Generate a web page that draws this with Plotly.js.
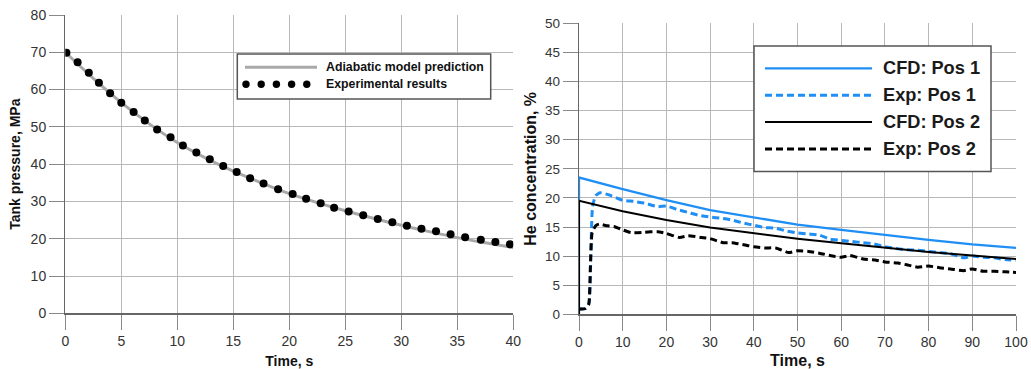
<!DOCTYPE html>
<html>
<head>
<meta charset="utf-8">
<script src="https://cdn.plot.ly/plotly-3.0.1.min.js"></script>
<style>
html,body{margin:0;padding:0;background:#fff;}
#chart{width:1031px;height:369px;}
</style>
</head>
<body>
<div id="chart"></div>
<script>
// ---------- Left chart data: tank pressure ----------
const modelTime = [0, 2.5, 5, 7.5, 10, 12.5, 15, 17.5, 20, 22.5, 25, 27.5, 30, 32.5, 35, 37.5, 40];
const modelPressure = [70, 63.0, 56.5, 50.8, 45.8, 41.7, 38.1, 35.0, 32.1, 29.7, 27.5, 25.5, 23.6, 21.9, 20.3, 18.9, 17.6];
const expTime = [0.1, 1.1, 2.1, 3.0, 4.0, 5.0, 6.1, 7.1, 8.2, 9.4, 10.5, 11.7, 12.9, 14.1, 15.3, 16.5, 17.7, 19.0, 20.3, 21.5, 22.8, 24.0, 25.3, 26.6, 27.9, 29.2, 30.5, 31.8, 33.1, 34.4, 35.7, 37.1, 38.4, 39.7];
const expPressure = [69.9, 67.3, 64.5, 61.8, 59.0, 56.5, 54.0, 51.7, 49.3, 47.2, 45.0, 43.1, 41.3, 39.5, 37.9, 36.2, 34.8, 33.3, 32.0, 30.7, 29.5, 28.3, 27.3, 26.3, 25.3, 24.4, 23.5, 22.7, 22.0, 21.2, 20.4, 19.7, 19.1, 18.5];
const leftNames = ['Adiabatic model prediction', 'Experimental results'];

// ---------- Right chart data: He concentration ----------
const cfd1Time = [0, 0, 10, 20, 30, 40, 50, 60, 70, 80, 90, 100];
const cfd1Conc = [0, 23.5, 21.5, 19.6, 17.9, 16.6, 15.4, 14.5, 13.6, 12.8, 12.0, 11.4];
const cfd2Time = [0, 0, 10, 20, 30, 40, 50, 60, 70, 80, 90, 100];
const cfd2Conc = [0, 19.5, 17.7, 16.2, 14.9, 13.9, 13.0, 12.2, 11.4, 10.7, 10.1, 9.5];
const exp1Time = [0, 1.5, 2.3, 2.7, 3.1, 3.8, 4.8, 6.5, 8, 10, 12.5, 15, 18, 20, 22.5, 25, 27.5, 30, 32.5, 35, 37.5, 40, 42.5, 45, 47.5, 50, 52.5, 55, 57.5, 60, 62.5, 65, 67.5, 70, 72.5, 75, 77.5, 80, 82.5, 85, 88, 90, 92.5, 95, 97.5, 100];
const exp1Conc = [0.9, 1.0, 2.0, 10, 18.5, 20.4, 20.9, 20.6, 20.2, 19.6, 19.4, 19.1, 18.5, 18.6, 18.0, 17.5, 17.0, 16.7, 16.5, 16.2, 15.7, 15.3, 14.9, 14.8, 14.3, 14.0, 13.8, 13.6, 12.9, 12.7, 12.5, 12.3, 12.1, 11.6, 11.3, 11.1, 11.0, 10.8, 10.6, 10.4, 9.7, 10.0, 9.8, 9.7, 9.4, 9.3];
const exp2Time = [0, 1.5, 2.2, 2.6, 3.0, 3.8, 4.6, 6.5, 8, 10, 12, 15, 18, 20, 23, 25, 28, 30, 33, 35, 38, 40, 42.5, 45, 48, 50, 52.5, 55, 58, 60, 62, 65, 68, 70, 73, 75, 77.5, 80, 82.5, 85, 88, 90, 92.5, 95, 97.5, 100];
const exp2Conc = [0.9, 1.0, 1.6, 8, 14, 15.2, 15.5, 15.2, 15.1, 14.5, 14.0, 14.1, 14.2, 13.9, 13.2, 13.5, 13.2, 13.0, 12.3, 12.3, 11.9, 11.6, 11.4, 11.4, 10.6, 10.9, 10.8, 10.5, 10.0, 9.8, 10.1, 9.5, 9.3, 9.0, 8.8, 8.5, 8.1, 8.3, 8.0, 7.8, 7.5, 7.8, 7.4, 7.4, 7.3, 7.2];
const rightNames = ['CFD: Pos 1', 'Exp: Pos 1', 'CFD: Pos 2', 'Exp: Pos 2'];

// ---------- styling ----------
const FONT = 'Liberation Sans, Arial, sans-serif';
const W = 1031, H = 369;
const px = x => x / W;
const py = y => 1 - y / H;
const BLUE = '#1f8ef5';
const GRID = '#b8b8b8';
const AXIS = '#666';

const traces = [
  {x: modelTime, y: modelPressure, name: leftNames[0], mode: 'lines', line: {color: '#a9a9a9', width: 3, shape: 'spline', smoothing: 0.8}, xaxis: 'x', yaxis: 'y', showlegend: false},
  {x: expTime, y: expPressure, name: leftNames[1], mode: 'markers', marker: {color: '#000', size: 8}, xaxis: 'x', yaxis: 'y', showlegend: false},
  {x: cfd1Time, y: cfd1Conc, name: rightNames[0], mode: 'lines', line: {color: BLUE, width: 2.3}, xaxis: 'x2', yaxis: 'y2', showlegend: false},
  {x: exp1Time, y: exp1Conc, name: rightNames[1], mode: 'lines', line: {color: BLUE, width: 3, dash: '7px,4px', shape: 'spline', smoothing: 0.5}, xaxis: 'x2', yaxis: 'y2', showlegend: false},
  {x: cfd2Time, y: cfd2Conc, name: rightNames[2], mode: 'lines', line: {color: '#000', width: 2}, xaxis: 'x2', yaxis: 'y2', showlegend: false},
  {x: exp2Time, y: exp2Conc, name: rightNames[3], mode: 'lines', line: {color: '#000', width: 3, dash: '7px,4px', shape: 'spline', smoothing: 0.5}, xaxis: 'x2', yaxis: 'y2', showlegend: false}
];

function axisBase(size) {
  return {
    showgrid: true, gridcolor: GRID, gridwidth: 1,
    showline: true, linecolor: AXIS, linewidth: 1.3,
    ticks: 'outside', ticklen: 15, tickcolor: '#888', tickwidth: 1,
    zeroline: false, automargin: false, fixedrange: true,
    tickfont: {family: FONT, size: size, color: '#333'}
  };
}

const layout = {
  width: W, height: H,
  margin: {l: 0, r: 0, t: 0, b: 0},
  paper_bgcolor: '#fff', plot_bgcolor: '#fff',
  font: {family: FONT},
  showlegend: false,
  xaxis: Object.assign(axisBase(14), {
    domain: [px(65.3), px(513.3)], range: [0, 40], dtick: 5, anchor: 'y',
    title: {text: 'Time, s', font: {family: FONT, size: 14, color: '#111', weight: 'bold'}, standoff: 8}
  }),
  yaxis: Object.assign(axisBase(14), {
    domain: [py(313.3), py(15)], range: [0, 80], dtick: 10, anchor: 'x',
    title: {text: 'Tank pressure, MPa', font: {family: FONT, size: 14, color: '#111', weight: 'bold'}, standoff: 6}
  }),
  xaxis2: Object.assign(axisBase(14), {
    domain: [px(579), px(1016)], range: [0, 100], dtick: 10, anchor: 'y2',
    title: {text: 'Time, s', font: {family: FONT, size: 16, color: '#111', weight: 'bold'}, standoff: 5}
  }),
  yaxis2: Object.assign(axisBase(13.5), {
    domain: [py(314.3), py(23.3)], range: [0, 50], dtick: 5, anchor: 'x2',
    title: {text: 'He concentration, %', font: {family: FONT, size: 16, color: '#111', weight: 'bold'}, standoff: 4}
  }),
  shapes: [],
  annotations: []
};

// ---- Left legend (drawn in paper space) ----
layout.shapes.push({type: 'rect', xref: 'paper', yref: 'paper', x0: px(237.3), x1: px(490.7), y0: py(99), y1: py(54), line: {color: '#555', width: 1.5}, fillcolor: '#fff', layer: 'above'});
layout.shapes.push({type: 'line', xref: 'paper', yref: 'paper', x0: px(245), x1: px(317), y0: py(67.3), y1: py(67.3), line: {color: '#a9a9a9', width: 3}, layer: 'above'});
for (let i = 0; i < 5; i++) {
  const cx = 246 + i * 15.2, cy = 84.3, r = 3.7;
  layout.shapes.push({type: 'circle', xref: 'paper', yref: 'paper', x0: px(cx - r), x1: px(cx + r), y0: py(cy + r), y1: py(cy - r), fillcolor: '#000', line: {color: '#000', width: 0}, layer: 'above'});
}
leftNames.forEach((n, i) => {
  layout.annotations.push({xref: 'paper', yref: 'paper', x: px(324), y: py(67.3 + i * 17), xanchor: 'left', yanchor: 'middle', showarrow: false, text: n, font: {family: FONT, size: 12.3, color: '#111', weight: 'bold'}});
});

// ---- Right legend ----
layout.shapes.push({type: 'rect', xref: 'paper', yref: 'paper', x0: px(754), x1: px(991), y0: py(171.5), y1: py(46), line: {color: '#555', width: 1.5}, fillcolor: '#fff', layer: 'above'});
const legStyles = [
  {color: BLUE, width: 2.3, dash: 'solid'},
  {color: BLUE, width: 3, dash: '7px,4px'},
  {color: '#000', width: 2, dash: 'solid'},
  {color: '#000', width: 3, dash: '7px,4px'}
];
rightNames.forEach((n, i) => {
  const yy = 68.3 + i * 26.9;
  layout.shapes.push({type: 'line', xref: 'paper', yref: 'paper', x0: px(765), x1: px(872), y0: py(yy), y1: py(yy), line: legStyles[i], layer: 'above'});
  layout.annotations.push({xref: 'paper', yref: 'paper', x: px(881), y: py(yy), xanchor: 'left', yanchor: 'middle', showarrow: false, text: n, font: {family: FONT, size: 18.2, color: '#1a1a1a', weight: 'bold'}});
});

Plotly.newPlot('chart', traces, layout, {displayModeBar: false, staticPlot: true});
</script>
</body>
</html>
